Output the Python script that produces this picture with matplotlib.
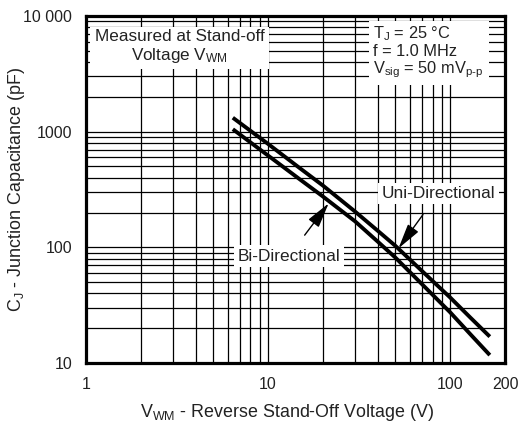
import matplotlib
matplotlib.use("Agg")
import matplotlib.pyplot as plt
from matplotlib.ticker import FixedLocator, NullFormatter

plt.rcParams["font.family"] = ["Liberation Sans", "DejaVu Sans"]
plt.rcParams["mathtext.fontset"] = "custom"
plt.rcParams["mathtext.rm"] = "Liberation Sans"
plt.rcParams["mathtext.it"] = "Liberation Sans"

# values
voltage = [6.4, 10, 15, 20, 30, 40, 50, 70, 100, 130, 165]
cap_uni = [1320, 783, 481, 342, 204, 139, 103, 62.4, 36.8, 24.4, 16.9]
cap_bi = [1050, 621, 385, 275, 168, 112, 81.5, 48, 27.4, 17.5, 11.7]

x_ticks = [1, 10, 100, 200]
x_ticklabels = ["1", "10", "100", "200"]
y_ticks = [10, 100, 1000, 10000]
y_ticklabels = ["10", "100", "1000", "10 000"]

fig = plt.figure(figsize=(5.32, 4.21), dpi=100)
ax = fig.add_axes([0.1617, 0.1378, 0.7876, 0.8242])

ax.set_xscale("log")
ax.set_yscale("log")
ax.set_xlim(1, 200)
ax.set_ylim(10, 10000)

# grid on every decade subdivision
x_minor = [m * d for d in (1, 10) for m in range(2, 10)]
y_minor = [m * d for d in (10, 100, 1000) for m in range(2, 10)]
ax.xaxis.set_major_locator(FixedLocator(x_ticks))
ax.xaxis.set_minor_locator(FixedLocator(x_minor))
ax.yaxis.set_major_locator(FixedLocator(y_ticks))
ax.yaxis.set_minor_locator(FixedLocator(y_minor))
ax.xaxis.set_minor_formatter(NullFormatter())
ax.yaxis.set_minor_formatter(NullFormatter())
ax.set_xticklabels(x_ticklabels)
ax.set_yticklabels(y_ticklabels)
ax.grid(True, which="both", color="black", lw=0.9)
ax.set_axisbelow(True)
ax.tick_params(which="both", length=0, labelsize=11.5, colors="#222222")
ax.tick_params(axis="y", pad=10)
ax.tick_params(axis="x", pad=10)
for s in ax.spines.values():
    s.set_linewidth(2.3)

ax.plot(voltage, cap_uni, color="black", lw=2.8, solid_capstyle="butt", zorder=3)
ax.plot(voltage, cap_bi, color="black", lw=2.8, solid_capstyle="butt", zorder=3)

ax.set_xlabel(r"V$_\mathregular{WM}$ - Reverse Stand-Off Voltage (V)", fontsize=12.9, color="#222222")
ax.set_ylabel(r"C$_\mathregular{J}$ - Junction Capacitance (pF)", fontsize=12.9, color="#222222")
ax.xaxis.set_label_coords(0.48, -0.111)
ax.yaxis.set_label_coords(-0.14, 0.5)

white = dict(facecolor="white", edgecolor="none", pad=2.5)
arrow = dict(arrowstyle="-|>,head_length=1.25,head_width=0.32", color="black", lw=1,
             shrinkA=9, shrinkB=0)

ax.text(0.223, 0.911, "Measured at Stand-off\nVoltage V$_\\mathregular{WM}$", transform=ax.transAxes,
        ha="center", va="center", fontsize=12.3, color="#222222", linespacing=1.1,
        bbox=dict(facecolor="white", edgecolor="none", boxstyle="square,pad=0.25"), zorder=4)
ax.text(0.686, 0.976, "T$_\\mathregular{J}$ = 25 °C\nf = 1.0 MHz\nV$_\\mathregular{sig}$ = 50 mV$_\\mathregular{p\\text{-}p}$",
        transform=ax.transAxes, ha="left", va="top", fontsize=11.8, color="#222222", linespacing=1.05,
        bbox=dict(facecolor="white", edgecolor="none", boxstyle="square,pad=0.3"), zorder=4)

ax.annotate("Uni-Directional", xy=(52, 98), xytext=(86, 292), ha="center", va="center",
            fontsize=12.4, color="#222222", bbox=white, zorder=5, arrowprops=arrow)
ax.annotate("Bi-Directional", xy=(21.5, 240), xytext=(13, 84), ha="center", va="center",
            fontsize=12.4, color="#222222", bbox=white, zorder=5, arrowprops=arrow)

fig.savefig("out.png", dpi=100)
